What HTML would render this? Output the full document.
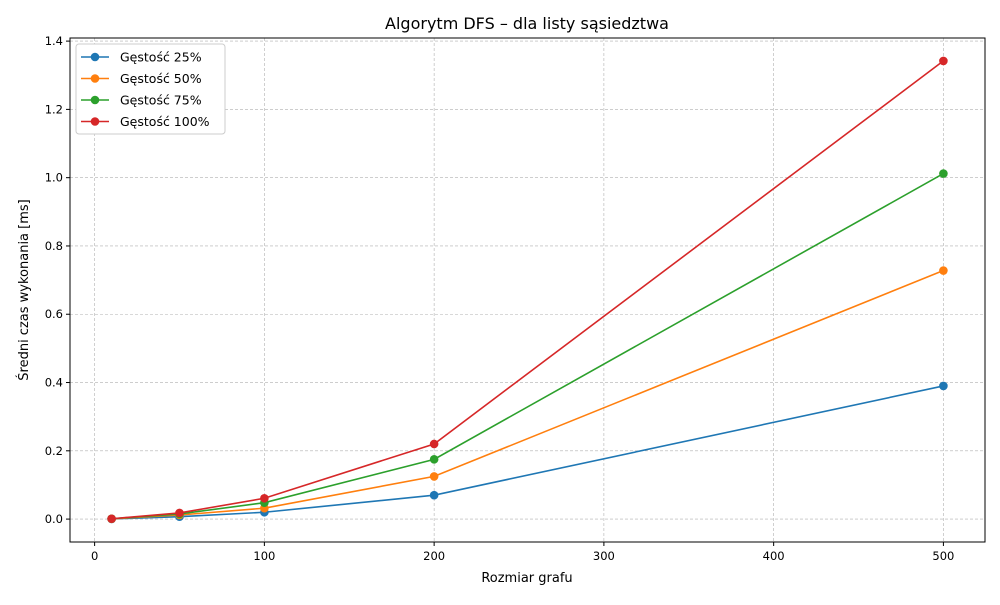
<!DOCTYPE html>
<html><head><meta charset="utf-8"><style>
body{margin:0;background:#fff;font-family:"Liberation Sans","DejaVu Sans",sans-serif}
</style></head><body>
<svg id="chart" width="1000" height="600" xmlns="http://www.w3.org/2000/svg" font-family="DejaVu Sans, Liberation Sans, sans-serif">
<rect width="1000" height="600" fill="#fff"/>
<text x="527" y="29" text-anchor="middle" font-size="16">Algorytm DFS – dla listy sąsiedztwa</text>
<text x="527" y="582" text-anchor="middle" font-size="13">Rozmiar grafu</text>
<text x="0" y="0" transform="translate(28,290) rotate(-90)" text-anchor="middle" font-size="13">Średni czas wykonania [ms]</text>
<g id="grid"></g><g id="axes"></g><g id="series"></g><g id="legend"></g>
</svg>
<script>
const sizes=[10,50,100,200,500];
const seriesNames=["Gęstość 25%","Gęstość 50%","Gęstość 75%","Gęstość 100%"];
const d25=[0.0005,0.007,0.02,0.07,0.39];
const d50=[0.0008,0.012,0.032,0.125,0.728];
const d75=[0.001,0.015,0.048,0.175,1.012];
const d100=[0.001,0.018,0.061,0.22,1.342];
const xTicks=[0,100,200,300,400,500];
const yTicks=[0,0.2,0.4,0.6,0.8,1.0,1.2,1.4];
const colors=["#1f77b4","#ff7f0e","#2ca02c","#d62728"];
const L=70,R=985,T=38,B=542;
const xmin=-14.5,xmax=524.5,ymin=-0.0671,ymax=1.4091;
const X=v=>L+(v-xmin)/(xmax-xmin)*(R-L);
const Y=v=>B-(v-ymin)/(ymax-ymin)*(B-T);
const NS="http://www.w3.org/2000/svg";
function mk(t,a,p){const e=document.createElementNS(NS,t);for(const k in a)e.setAttribute(k,a[k]);p.appendChild(e);return e;}
const grid=document.getElementById('grid'),axes=document.getElementById('axes'),ser=document.getElementById('series'),leg=document.getElementById('legend');
xTicks.forEach(v=>{const x=X(v);
 const g=mk('line',{x1:x,x2:x,y1:T,y2:B,stroke:'#b0b0b0','stroke-width':0.6,'stroke-dasharray':'3,2'},grid);
 
 
 mk('line',{x1:x,x2:x,y1:B,y2:B+4,stroke:'#000'},axes);
 const t=mk('text',{x:x,y:B+18,'text-anchor':'middle','font-size':11.5},axes);t.textContent=v;
 
 
});
yTicks.forEach(v=>{const y=Y(v);
 const g=mk('line',{x1:L,x2:R,y1:y,y2:y,stroke:'#b0b0b0','stroke-width':0.6,'stroke-dasharray':'3,2'},grid);
 
 
 mk('line',{x1:L-4,x2:L,y1:y,y2:y,stroke:'#000'},axes);
 const t=mk('text',{x:L-7,y:y+4,'text-anchor':'end','font-size':11.5},axes);t.textContent=v.toFixed(1);
 
 
});
const fr=mk('rect',{x:L,y:T,width:R-L,height:B-T,fill:'none',stroke:'#000','stroke-width':1},axes);


[d25,d50,d75,d100].forEach((d,i)=>{
 const pl=mk('polyline',{points:d.map((v,j)=>X(sizes[j])+','+Y(v)).join(' '),fill:'none',stroke:colors[i],'stroke-width':1.6},ser);
 
 
 d.forEach((v,j)=>{const c=mk('circle',{cx:X(sizes[j]),cy:Y(v),r:4.3,fill:colors[i]},ser);
  
  });
});
const lb=mk('rect',{x:76,y:44,width:149,height:90,fill:'#fff',stroke:'#ccc',rx:3},leg);


seriesNames.forEach((n,i)=>{const y=57+i*21.5;
 const g=mk('g',{},leg);
 
 
 mk('line',{x1:81,x2:109,y1:y,y2:y,stroke:colors[i],'stroke-width':1.6},g);
 mk('circle',{cx:95,cy:y,r:4.3,fill:colors[i]},g);
 const t=mk('text',{x:120,y:y+4.5,'font-size':12.5},g);t.textContent=n;
});
</script>
</body></html>
